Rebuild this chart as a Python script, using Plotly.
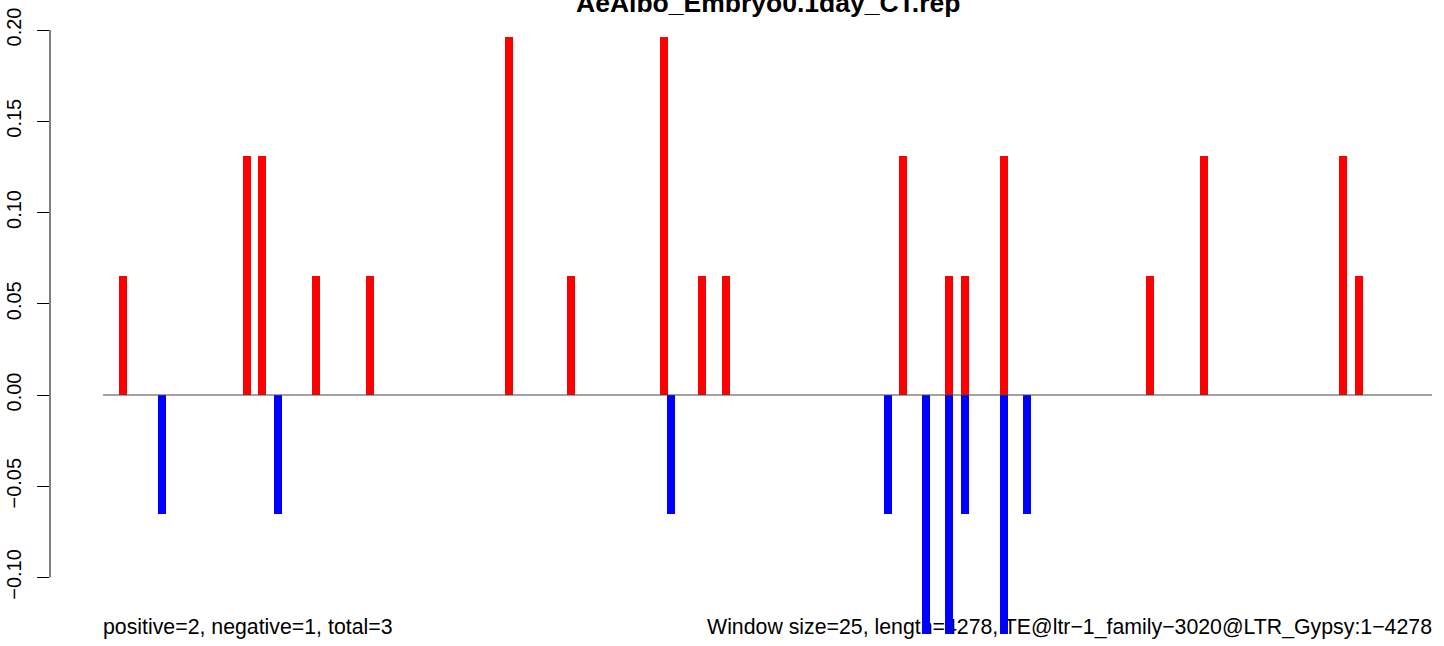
import plotly.graph_objects as go

# ---- data ----
title = "AeAlbo_Embryo0.1day_CT.rep"
seq_len = 4278
window = 25
pos_x = [64, 463, 512, 686, 859, 1307, 1506, 1806, 1928, 2005, 2575, 2723,
         2774, 2900, 3370, 3544, 3991, 4043]
pos_y = [0.0654, 0.1308, 0.1308, 0.0654, 0.0654, 0.1962, 0.0654, 0.1962,
         0.0654, 0.0654, 0.1308, 0.0654, 0.0654, 0.1308, 0.0654, 0.1308,
         0.1308, 0.0654]
neg_x = [190, 563, 1828, 2527, 2649, 2723, 2774, 2900, 2974]
neg_y = [-0.0654, -0.0654, -0.0654, -0.0654, -0.1308, -0.1308, -0.0654,
         -0.1308, -0.0654]
y_ticks = [-0.10, -0.05, 0.00, 0.05, 0.10, 0.15, 0.20]
left_note = "positive=2, negative=1, total=3"
right_note = ("Window size=25, length=4278, "
              "TE@ltr\u22121_family\u22123020@LTR_Gypsy:1\u22124278")

FONT = "Liberation Sans, Arial, Helvetica, sans-serif"
W, H = 1444, 646
ml, mr, mt, mb = 50, 0, 10, 6
xr = [-170.6, 4316.6]
yr = [-0.13425, 0.21096]

fig = go.Figure()

# text notes in base subplot (drawn beneath bars)
fig.add_trace(go.Scatter(
    x=[0], y=[0.0175], mode="text", text=[left_note],
    textposition="middle right", textfont=dict(size=21.3, color="black", family=FONT),
    xaxis="x", yaxis="y", showlegend=False, hoverinfo="skip", cliponaxis=False))
fig.add_trace(go.Scatter(
    x=[seq_len], y=[0.0175], mode="text", text=[right_note],
    textposition="middle left", textfont=dict(size=21.3, color="black", family=FONT),
    xaxis="x", yaxis="y", showlegend=False, hoverinfo="skip", cliponaxis=False))

# bars in overlaid subplot
fig.add_trace(go.Bar(x=pos_x, y=pos_y, width=window, marker=dict(color="#FF0000", line=dict(width=0)),
                     xaxis="x2", yaxis="y2", showlegend=False))
fig.add_trace(go.Bar(x=neg_x, y=neg_y, width=window, marker=dict(color="#0000FF", line=dict(width=0)),
                     xaxis="x2", yaxis="y2", showlegend=False))

fig.update_layout(
    width=W, height=H,
    margin=dict(l=ml, r=mr, t=mt, b=mb, pad=0),
    paper_bgcolor="white", plot_bgcolor="white",
    barmode="overlay", bargap=0,
    font=dict(family=FONT, color="black"),
    xaxis=dict(range=xr, visible=False, fixedrange=True),
    yaxis=dict(range=[0, 1], visible=False, fixedrange=True),
    xaxis2=dict(range=xr, visible=False, overlaying="x"),
    yaxis2=dict(range=yr, overlaying="y", side="left", showgrid=False, zeroline=False,
                showline=False, tickmode="array", tickvals=y_ticks, tickformat=".2f",
                ticks="outside", ticklen=12, tickwidth=1, tickcolor="black",
                ticklabelstandoff=8,
                tickangle=-90, tickfont=dict(size=20, color="black", family=FONT)),
    shapes=[
        dict(type="line", xref="x2", yref="y2", x0=0, x1=seq_len, y0=0, y1=0,
             line=dict(color="#444444", width=1), layer="above"),
        dict(type="line", xref="paper", yref="y2", x0=0, x1=0,
             y0=y_ticks[0], y1=y_ticks[-1], line=dict(color="black", width=1)),
    ],
    annotations=[
        dict(text="<b>" + title + "</b>", xref="x2", yref="paper", x=seq_len / 2, y=1,
             xanchor="center", yanchor="middle", yshift=7, showarrow=False,
             font=dict(size=26.5, color="black", family=FONT)),
    ],
)

fig.write_html("out.html", config={"displayModeBar": False},
               post_script="document.body.style.margin='0';document.body.style.overflow='hidden';")
